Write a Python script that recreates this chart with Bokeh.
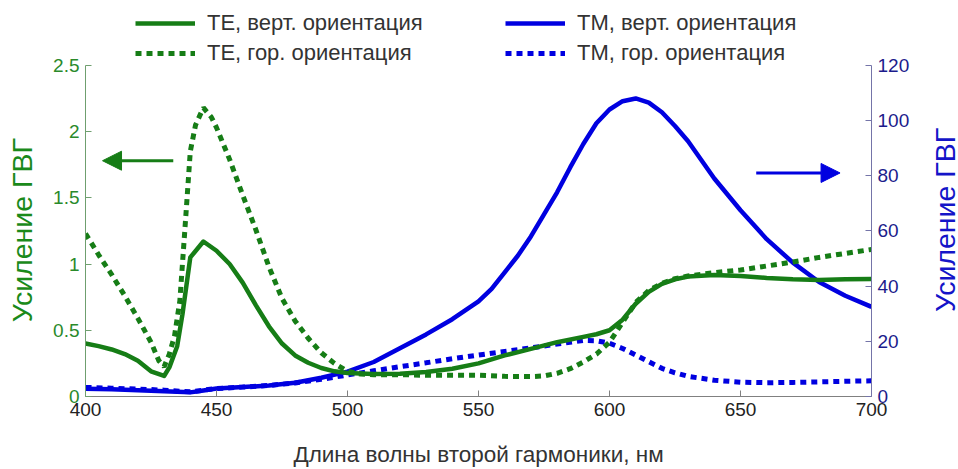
import math
from bokeh.plotting import figure
from bokeh.layouts import row
from bokeh.models import (Range1d, LinearAxis, FixedTicker, NumeralTickFormatter,
                          Legend, LegendItem, Arrow, NormalHead)
from bokeh.core.properties import value
from bokeh.embed import file_html
from bokeh.resources import INLINE

# --- data -------------------------------------------------------------
# TE, vertical orientation (left axis)
wl_te_v = [400, 405, 410, 415, 420, 425, 430, 432, 435, 437, 440, 445, 450, 455, 460,
           465, 470, 475, 480, 485, 490, 495, 500, 510, 520, 530, 540, 550, 560, 570,
           580, 590, 595, 600, 605, 610, 615, 620, 625, 630, 640, 650, 660, 670, 680,
           690, 700]
te_v = [0.40, 0.38, 0.355, 0.32, 0.27, 0.19, 0.155, 0.22, 0.38, 0.62, 1.05, 1.17, 1.10,
        1.00, 0.86, 0.69, 0.53, 0.40, 0.31, 0.255, 0.215, 0.19, 0.178, 0.17, 0.172,
        0.185, 0.21, 0.25, 0.31, 0.36, 0.41, 0.45, 0.47, 0.50, 0.58, 0.70, 0.79, 0.85,
        0.885, 0.905, 0.918, 0.91, 0.895, 0.885, 0.88, 0.885, 0.887]

# TE, horizontal orientation (left axis)
wl_te_h = [400, 405, 410, 415, 420, 425, 428, 430, 432, 434, 436, 438, 440, 442, 445,
           448, 450, 455, 460, 465, 470, 475, 480, 485, 490, 495, 500, 505, 510, 520,
           530, 540, 550, 560, 570, 575, 580, 585, 590, 595, 600, 605, 610, 615, 620,
           625, 630, 640, 650, 660, 670, 680, 690, 700]
te_h = [1.23, 1.07, 0.92, 0.76, 0.59, 0.41, 0.27, 0.225, 0.32, 0.46, 0.72, 1.28, 1.85,
        2.05, 2.18, 2.11, 2.03, 1.79, 1.52, 1.26, 0.98, 0.74, 0.57, 0.44, 0.33, 0.25,
        0.19, 0.17, 0.165, 0.165, 0.16, 0.16, 0.16, 0.152, 0.15, 0.155, 0.175, 0.21,
        0.26, 0.32, 0.41, 0.56, 0.71, 0.80, 0.855, 0.89, 0.91, 0.935, 0.955, 0.985,
        1.015, 1.05, 1.08, 1.11]

# TM, vertical orientation (right axis)
wl_tm_v = [400, 410, 420, 430, 440, 445, 450, 460, 470, 480, 490, 500, 510, 520, 530,
           540, 550, 555, 560, 565, 570, 575, 580, 585, 590, 595, 600, 605, 610, 615,
           620, 625, 630, 640, 650, 660, 670, 680, 690, 700]
tm_v = [2.8, 2.6, 2.3, 1.9, 1.5, 2.2, 2.9, 3.4, 4.0, 5.0, 6.8, 9.0, 12.5, 17.5, 22.5,
        28.0, 34.5, 39.0, 45.0, 51.0, 58.0, 66.0, 74.0, 83.0, 91.5, 99.0, 104.0, 107.0,
        108.0, 106.5, 103.0, 98.0, 92.5, 79.0, 67.5, 57.0, 48.5, 41.5, 36.5, 32.5]

# TM, horizontal orientation (right axis)
wl_tm_h = [400, 410, 420, 430, 440, 445, 450, 460, 470, 480, 490, 500, 510, 520, 530,
           540, 550, 560, 570, 580, 590, 595, 600, 605, 610, 615, 620, 625, 630, 640,
           650, 660, 670, 680, 690, 700]
tm_h = [3.3, 3.0, 2.7, 2.3, 1.7, 2.3, 2.9, 3.4, 4.0, 4.9, 6.2, 7.8, 9.3, 10.8, 12.2,
        13.7, 15.0, 16.3, 17.6, 19.0, 20.3, 20.2, 19.3, 17.4, 15.0, 12.6, 10.2, 8.6,
        7.3, 5.9, 5.2, 5.0, 5.1, 5.3, 5.5, 5.7]

x_ticks = [400, 450, 500, 550, 600, 650, 700]
left_ticks = [0, 0.5, 1, 1.5, 2, 2.5]
right_ticks = [0, 20, 40, 60, 80, 100, 120]

labels = ["ТЕ, верт. ориентация", "ТЕ, гор. ориентация",
          "ТМ, верт. ориентация", "ТМ, гор. ориентация"]
y_title = "Усиление ГВГ"
x_title = "Длина волны второй гармоники, нм"

# --- layout ----------------------------------------------------------------
W, H = 958, 469
STRIP_W = 40                          # narrow strip holding the right-hand title
MAIN_W = W - STRIP_W
FRAME_RIGHT = 871
BORDER_BOTTOM = 72
FRAME_H = H - BORDER_BOTTOM          # frame reaches the top edge
LEGEND_GAP = 65                      # room above the axes for the legend
LEFT_MAX, RIGHT_MAX = 2.5, 120
scale = FRAME_H / (FRAME_H - LEGEND_GAP)

# the left title is centred on the full frame height; non-breaking spaces
# after the text move it down to the middle of the bounded axis
NBSP = "\u00a0"

FONT = "Liberation Sans"
GREEN = "#167d16"
BLUE = "#0000e0"

p = figure(width=MAIN_W, height=H, x_range=Range1d(400, 700),
           y_range=Range1d(0, LEFT_MAX * scale),
           output_backend="svg", toolbar_location=None,
           min_border_left=85, min_border_right=MAIN_W - FRAME_RIGHT, min_border_top=0,
           min_border_bottom=BORDER_BOTTOM, background_fill_color="white",
           border_fill_color="white")
p.outline_line_color = None
p.grid.visible = False
p.extra_y_ranges = {"right": Range1d(0, RIGHT_MAX * scale)}

# bottom axis
xa = p.xaxis[0]
xa.ticker = FixedTicker(ticks=x_ticks)
xa.axis_label = x_title
xa.axis_label_text_font = FONT
xa.axis_label_text_font_size = "22.5px"
xa.axis_label_text_font_style = "normal"
xa.axis_label_text_color = "#333333"
xa.axis_label_standoff = 23
xa.major_label_text_font = FONT
xa.major_label_text_font_size = "19px"
xa.major_label_text_color = "#222222"
xa.major_label_standoff = 6
xa.axis_line_color = "#808080"
xa.major_tick_line_color = "#808080"
xa.major_tick_in = 6
xa.major_tick_out = 0
xa.minor_tick_line_color = None

# left axis
ya = p.yaxis[0]
ya.bounds = (0, LEFT_MAX)
ya.ticker = FixedTicker(ticks=left_ticks)
ya.formatter = NumeralTickFormatter(format="0.[0]")
ya.axis_label = y_title + NBSP * 8
ya.axis_label_text_font = FONT
ya.axis_label_text_font_size = "28.5px"
ya.axis_label_text_font_style = "normal"
ya.axis_label_text_color = "#1a8a1a"
ya.axis_label_standoff = 12
ya.major_label_text_font = FONT
ya.major_label_text_font_size = "19px"
ya.major_label_text_color = "#2a8a2a"
ya.major_label_standoff = 6
ya.axis_line_color = "#6f9f6f"
ya.major_tick_line_color = "#6f9f6f"
ya.major_tick_in = 6
ya.major_tick_out = 0
ya.minor_tick_line_color = None

# right axis
ra = LinearAxis(y_range_name="right", ticker=FixedTicker(ticks=right_ticks),
                bounds=(0, RIGHT_MAX))
ra.major_label_text_font = FONT
ra.major_label_text_font_size = "19px"
ra.major_label_text_color = "#1c1c8c"
ra.major_label_standoff = 6
ra.axis_line_color = "#7474a8"
ra.major_tick_line_color = "#7474a8"
ra.major_tick_in = 6
ra.major_tick_out = 0
ra.minor_tick_line_color = None
p.add_layout(ra, "right")

# --- curves ----------------------------------------------------------------
DOT = "6 5"
r_tm_h = p.line(wl_tm_h, tm_h, y_range_name="right", line_color=BLUE,
                line_width=5, line_dash=DOT)
r_tm_v = p.line(wl_tm_v, tm_v, y_range_name="right", line_color=BLUE,
                line_width=4.5, line_join="round")
r_te_h = p.line(wl_te_h, te_h, line_color=GREEN, line_width=5, line_dash=DOT)
r_te_v = p.line(wl_te_v, te_v, line_color=GREEN, line_width=4.5, line_join="round")

# --- arrows pointing to the relevant axis ---------------------------------------
p.add_layout(Arrow(x_start=433.5, y_start=1.78, x_end=406.5, y_end=1.78,
                   line_color=GREEN, line_width=3,
                   end=NormalHead(size=19, fill_color=GREEN, line_color=GREEN)))
p.add_layout(Arrow(x_start=656, y_start=81, x_end=688, y_end=81, y_range_name="right",
                   line_color=BLUE, line_width=3,
                   end=NormalHead(size=19, fill_color=BLUE, line_color=BLUE)))

# --- legends in the strip above the axes -----------------------------------------
def make_legend(items, loc):
    return Legend(items=items, location=loc, orientation="vertical",
                  glyph_width=60, glyph_height=22, label_standoff=12,
                  label_text_font=FONT, label_text_font_size="22px",
                  label_text_color="#333333", label_height=24, spacing=4,
                  padding=0, margin=0, border_line_alpha=0,
                  background_fill_alpha=0)

legend_bottom = FRAME_H - 67
leg_te = make_legend([LegendItem(label=labels[0], renderers=[r_te_v]),
                      LegendItem(label=labels[1], renderers=[r_te_h])],
                     (50, legend_bottom))
leg_tm = make_legend([LegendItem(label=labels[2], renderers=[r_tm_v]),
                      LegendItem(label=labels[3], renderers=[r_tm_h])],
                     (420, legend_bottom))
p.add_layout(leg_te, "center")
p.add_layout(leg_tm, "center")

# --- right-hand title, reading bottom-to-top, in its own strip ---------------------
# the row aligns this strip's frame with the main frame (0 .. FRAME_H px)
strip = figure(width=STRIP_W, height=H, x_range=Range1d(0, STRIP_W),
               y_range=Range1d(0, FRAME_H), x_axis_type=None, y_axis_type=None,
               output_backend="svg", toolbar_location=None,
               min_border_left=0, min_border_right=0, min_border_top=0,
               min_border_bottom=0, background_fill_color="white",
               border_fill_color="white")
strip.outline_line_color = None
strip.grid.visible = False
strip.text(x=[944 - MAIN_W], y=[FRAME_H - 220], text=[y_title], angle=math.pi / 2,
           text_align="center", text_baseline="middle",
           text_font=value(FONT), text_font_size="28.5px", text_color="#1414c8")

layout = row(p, strip, spacing=0)
open("out.html", "w").write(file_html(layout, INLINE))
